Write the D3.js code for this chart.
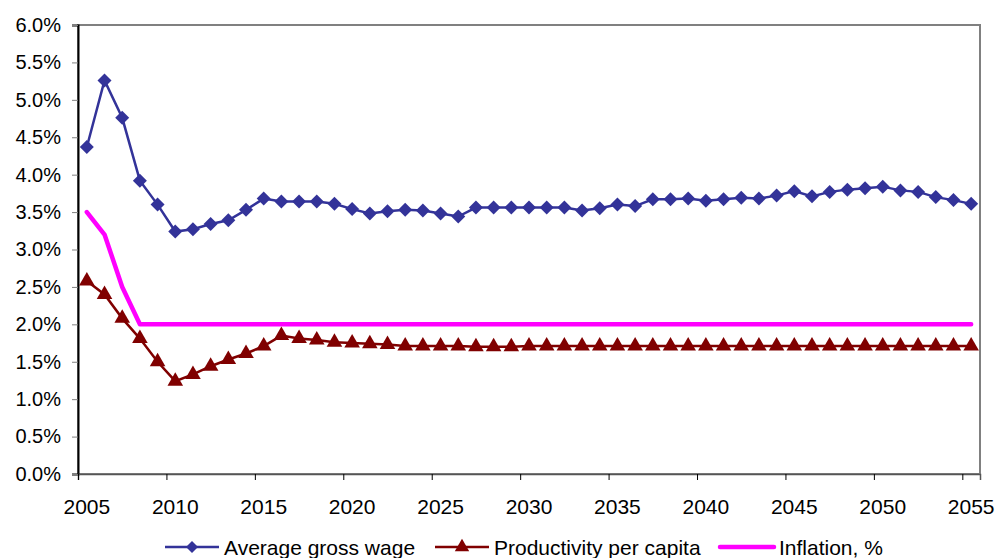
<!DOCTYPE html>
<html>
<head>
<meta charset="utf-8">
<script src="https://cdn.jsdelivr.net/npm/d3@7"></script>
<style>
  body { margin: 0; background: white; }
  text { font-family: "Liberation Sans", Arial, sans-serif; }
</style>
</head>
<body>
<div id="chart"></div>
<script>
const width = 997;
const height = 558;
const margin = {top: 25, right: 17, bottom: 84, left: 78};

const years = d3.range(2005, 2056);
const wage = [4.37, 5.26, 4.76, 3.92, 3.60, 3.24, 3.27, 3.34, 3.39, 3.53,
              3.68, 3.64, 3.64, 3.64, 3.61, 3.54, 3.48, 3.51, 3.53, 3.52,
              3.48, 3.44, 3.56, 3.56, 3.56, 3.56, 3.56, 3.56, 3.52, 3.55,
              3.60, 3.58, 3.67, 3.67, 3.68, 3.65, 3.67, 3.69, 3.68, 3.72,
              3.78, 3.71, 3.77, 3.80, 3.82, 3.84, 3.79, 3.77, 3.70, 3.66,
              3.61];
const productivity = [2.58, 2.40, 2.08, 1.81, 1.50, 1.24, 1.33, 1.44, 1.53, 1.61,
                      1.71, 1.85, 1.81, 1.79, 1.76, 1.75, 1.74, 1.73, 1.71, 1.71,
                      1.71, 1.71, 1.70, 1.70, 1.70, 1.71, 1.71, 1.71, 1.71, 1.71,
                      1.71, 1.71, 1.71, 1.71, 1.71, 1.71, 1.71, 1.71, 1.71, 1.71,
                      1.71, 1.71, 1.71, 1.71, 1.71, 1.71, 1.71, 1.71, 1.71, 1.71,
                      1.71];
const inflation = [3.5, 3.2, 2.5, 2.0, 2.0, 2.0, 2.0, 2.0, 2.0, 2.0,
                   2.0, 2.0, 2.0, 2.0, 2.0, 2.0, 2.0, 2.0, 2.0, 2.0,
                   2.0, 2.0, 2.0, 2.0, 2.0, 2.0, 2.0, 2.0, 2.0, 2.0,
                   2.0, 2.0, 2.0, 2.0, 2.0, 2.0, 2.0, 2.0, 2.0, 2.0,
                   2.0, 2.0, 2.0, 2.0, 2.0, 2.0, 2.0, 2.0, 2.0, 2.0,
                   2.0];
const yTicks = [0, 0.5, 1, 1.5, 2, 2.5, 3, 3.5, 4, 4.5, 5, 5.5, 6];
const xLabels = [2005, 2010, 2015, 2020, 2025, 2030, 2035, 2040, 2045, 2050, 2055];
const seriesNames = ["Average gross wage", "Productivity per capita", "Inflation, %"];

const svg = d3.select('#chart')
              .append('svg')
              .attr('width', width)
              .attr('height', height)
              .style('background', 'white');

const x = d3.scaleLinear()
            .domain([2004.5, 2055.5])
            .range([margin.left, width - margin.right]);

const y = d3.scaleLinear()
            .domain([0, 6])
            .range([height - margin.bottom, margin.top]);

// plot frame
svg.append("rect")
   .attr("x", margin.left)
   .attr("y", margin.top)
   .attr("width", width - margin.right - margin.left)
   .attr("height", height - margin.bottom - margin.top)
   .attr("fill", "none")
   .attr("stroke", "#808080")
   .attr("stroke-width", 2);

// y axis
const yAxis = svg.append("g")
   .attr("transform", `translate(${margin.left},0)`)
   .call(d3.axisLeft(y).tickValues(yTicks).tickSize(6).tickPadding(11)
           .tickFormat(d => d.toFixed(1) + "%"));
yAxis.select(".domain").attr("stroke", "black").attr("stroke-width", 2);
yAxis.selectAll(".tick line").attr("stroke", "#808080");
yAxis.selectAll("text")
     .style("font-size", "20px")
     .attr("fill", "black");

// x axis: ticks between categories, labels on categories
const xAxis = svg.append("g")
   .attr("transform", `translate(0,${height - margin.bottom})`)
   .call(d3.axisBottom(x).tickValues(xLabels.map(d => d - 0.5)).tickSize(6).tickFormat(""));
xAxis.select(".domain").attr("stroke", "#555").attr("stroke-width", 1.5);
xAxis.selectAll(".tick line").attr("stroke", "black");

svg.append("g")
   .selectAll("text")
   .data(xLabels)
   .enter()
   .append("text")
   .attr("x", d => x(d))
   .attr("y", 514)
   .attr("text-anchor", "middle")
   .style("font-size", "21px")
   .text(d => d);

const line = d3.line()
               .x((d, i) => x(years[i]))
               .y(d => y(d));

// inflation
svg.append("path")
   .datum(inflation)
   .attr("d", line)
   .attr("fill", "none")
   .attr("stroke", "#FF00FF")
   .attr("stroke-width", 4.5)
   .attr("stroke-linecap", "round")
   .attr("stroke-linejoin", "round");

// productivity
svg.append("path")
   .datum(productivity)
   .attr("d", line)
   .attr("fill", "none")
   .attr("stroke", "#800000")
   .attr("stroke-width", 2.5);

const triangle = d3.symbol().type(d3.symbolTriangle).size(105);
const diamond = "M0,-7L7,0L0,7L-7,0Z";

svg.append("g")
   .selectAll("path")
   .data(productivity)
   .enter()
   .append("path")
   .attr("d", triangle)
   .attr("transform", (d, i) => `translate(${x(years[i])},${y(d)})`)
   .attr("fill", "#800000");

// wage
svg.append("path")
   .datum(wage)
   .attr("d", line)
   .attr("fill", "none")
   .attr("stroke", "#333399")
   .attr("stroke-width", 2.5);

svg.append("g")
   .selectAll("path")
   .data(wage)
   .enter()
   .append("path")
   .attr("d", diamond)
   .attr("transform", (d, i) => `translate(${x(years[i])},${y(d)})`)
   .attr("fill", "#333399");

// legend
const legendY = 547;
const legendItems = [
  {x: 165, color: "#333399", width: 2.5, marker: "diamond"},
  {x: 435, color: "#800000", width: 2.5, marker: "triangle"},
  {x: 720, color: "#FF00FF", width: 4.5, marker: null}
];

legendItems.forEach((item, i) => {
    svg.append("line")
       .attr("x1", item.x)
       .attr("x2", item.x + 54)
       .attr("y1", legendY)
       .attr("y2", legendY)
       .attr("stroke", item.color)
       .attr("stroke-width", item.width)
       .attr("stroke-linecap", item.marker ? "butt" : "round");

    if (item.marker === "diamond") {
        svg.append("path")
           .attr("d", "M0,-6L6,0L0,6L-6,0Z")
           .attr("transform", `translate(${item.x + 27},${legendY})`)
           .attr("fill", item.color);
    } else if (item.marker === "triangle") {
        svg.append("path")
           .attr("d", d3.symbol().type(d3.symbolTriangle).size(90))
           .attr("transform", `translate(${item.x + 27},${legendY})`)
           .attr("fill", item.color);
    }

    svg.append("text")
       .attr("x", item.x + 59)
       .attr("y", 555)
       .style("font-size", "21px")
       .text(seriesNames[i]);
});
</script>
</body>
</html>
